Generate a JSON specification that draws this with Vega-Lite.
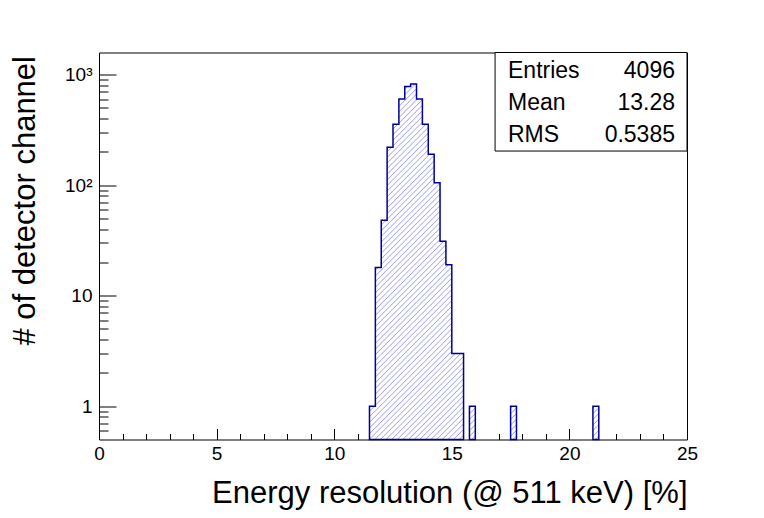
{
  "$schema": "https://vega.github.io/schema/vega-lite/v6.json",
  "width": 588,
  "height": 387,
  "autosize": "none",
  "padding": {"left": 99, "top": 52.5, "right": 77, "bottom": 78.5},
  "background": "white",
  "datasets": {
    "bins": [
      {"x0": 11.5, "x1": 11.75, "n": 1, "run": 1},
      {"x0": 11.75, "x1": 12.0, "n": 18, "run": 1},
      {"x0": 12.0, "x1": 12.25, "n": 48, "run": 1},
      {"x0": 12.25, "x1": 12.5, "n": 220, "run": 1},
      {"x0": 12.5, "x1": 12.75, "n": 355, "run": 1},
      {"x0": 12.75, "x1": 13.0, "n": 600, "run": 1},
      {"x0": 13.0, "x1": 13.25, "n": 780, "run": 1},
      {"x0": 13.25, "x1": 13.5, "n": 820, "run": 1},
      {"x0": 13.5, "x1": 13.75, "n": 600, "run": 1},
      {"x0": 13.75, "x1": 14.0, "n": 355, "run": 1},
      {"x0": 14.0, "x1": 14.25, "n": 190, "run": 1},
      {"x0": 14.25, "x1": 14.5, "n": 105, "run": 1},
      {"x0": 14.5, "x1": 14.75, "n": 31, "run": 1},
      {"x0": 14.75, "x1": 15.0, "n": 19, "run": 1},
      {"x0": 15.0, "x1": 15.25, "n": 3, "run": 1},
      {"x0": 15.25, "x1": 15.5, "n": 3, "run": 1},
      {"x0": 15.75, "x1": 16.0, "n": 1, "run": 2},
      {"x0": 17.5, "x1": 17.75, "n": 1, "run": 3},
      {"x0": 21.0, "x1": 21.25, "n": 1, "run": 4}
    ],
    "stats": [
      {"names": ["Entries", "Mean", "RMS"], "vals": ["4096", "13.28", "0.5385"]}
    ]
  },
  "config": {
    "font": "Liberation Sans",
    "view": {"stroke": "black", "strokeWidth": 1},
    "axis": {
      "domain": false,
      "grid": false,
      "tickColor": "black",
      "tickWidth": 1,
      "labelColor": "black",
      "titleColor": "black",
      "labelFont": "Liberation Sans",
      "titleFont": "Liberation Sans",
      "labelFontSize": 19,
      "titleFontSize": 31,
      "titleFontWeight": "normal",
      "zindex": 1,
      "labelFlush": false,
      "labelOverlap": false
    }
  },
  "resolve": {"axis": {"x": "independent", "y": "independent"}},
  "layer": [
    {
      "data": {"name": "bins"},
      "transform": [
        {"filter": "datum.run == 1"},
        {"fold": ["x0", "x1"]}
      ],
      "mark": {
        "type": "area",
        "interpolate": "linear",
        "opacity": 1,
        "fillOpacity": 1,
        "stroke": "#000099",
        "strokeWidth": 1.5,
        "fill": {
          "gradient": "linear",
          "x1": 0, "y1": 0, "x2": 0.3128, "y2": 1.1819,
          "stops": [
            {"offset": 0, "color": "white"}, {"offset": 0.0025, "color": "#a4a4f6"}, {"offset": 0.005, "color": "white"},
            {"offset": 0.0125, "color": "white"}, {"offset": 0.015, "color": "#a4a4f6"}, {"offset": 0.0175, "color": "white"},
            {"offset": 0.025, "color": "white"}, {"offset": 0.0275, "color": "#a4a4f6"}, {"offset": 0.03, "color": "white"},
            {"offset": 0.0375, "color": "white"}, {"offset": 0.04, "color": "#a4a4f6"}, {"offset": 0.0425, "color": "white"},
            {"offset": 0.05, "color": "white"}, {"offset": 0.0525, "color": "#a4a4f6"}, {"offset": 0.055, "color": "white"},
            {"offset": 0.0625, "color": "white"}, {"offset": 0.065, "color": "#a4a4f6"}, {"offset": 0.0675, "color": "white"},
            {"offset": 0.075, "color": "white"}, {"offset": 0.0775, "color": "#a4a4f6"}, {"offset": 0.08, "color": "white"},
            {"offset": 0.0875, "color": "white"}, {"offset": 0.09, "color": "#a4a4f6"}, {"offset": 0.0925, "color": "white"},
            {"offset": 0.1, "color": "white"}, {"offset": 0.1025, "color": "#a4a4f6"}, {"offset": 0.105, "color": "white"},
            {"offset": 0.1125, "color": "white"}, {"offset": 0.115, "color": "#a4a4f6"}, {"offset": 0.1175, "color": "white"},
            {"offset": 0.125, "color": "white"}, {"offset": 0.1275, "color": "#a4a4f6"}, {"offset": 0.13, "color": "white"},
            {"offset": 0.1375, "color": "white"}, {"offset": 0.14, "color": "#a4a4f6"}, {"offset": 0.1425, "color": "white"},
            {"offset": 0.15, "color": "white"}, {"offset": 0.1525, "color": "#a4a4f6"}, {"offset": 0.155, "color": "white"},
            {"offset": 0.1625, "color": "white"}, {"offset": 0.165, "color": "#a4a4f6"}, {"offset": 0.1675, "color": "white"},
            {"offset": 0.175, "color": "white"}, {"offset": 0.1775, "color": "#a4a4f6"}, {"offset": 0.18, "color": "white"},
            {"offset": 0.1875, "color": "white"}, {"offset": 0.19, "color": "#a4a4f6"}, {"offset": 0.1925, "color": "white"},
            {"offset": 0.2, "color": "white"}, {"offset": 0.2025, "color": "#a4a4f6"}, {"offset": 0.205, "color": "white"},
            {"offset": 0.2125, "color": "white"}, {"offset": 0.215, "color": "#a4a4f6"}, {"offset": 0.2175, "color": "white"},
            {"offset": 0.225, "color": "white"}, {"offset": 0.2275, "color": "#a4a4f6"}, {"offset": 0.23, "color": "white"},
            {"offset": 0.2375, "color": "white"}, {"offset": 0.24, "color": "#a4a4f6"}, {"offset": 0.2425, "color": "white"},
            {"offset": 0.25, "color": "white"}, {"offset": 0.2525, "color": "#a4a4f6"}, {"offset": 0.255, "color": "white"},
            {"offset": 0.2625, "color": "white"}, {"offset": 0.265, "color": "#a4a4f6"}, {"offset": 0.2675, "color": "white"},
            {"offset": 0.275, "color": "white"}, {"offset": 0.2775, "color": "#a4a4f6"}, {"offset": 0.28, "color": "white"},
            {"offset": 0.2875, "color": "white"}, {"offset": 0.29, "color": "#a4a4f6"}, {"offset": 0.2925, "color": "white"},
            {"offset": 0.3, "color": "white"}, {"offset": 0.3025, "color": "#a4a4f6"}, {"offset": 0.305, "color": "white"},
            {"offset": 0.3125, "color": "white"}, {"offset": 0.315, "color": "#a4a4f6"}, {"offset": 0.3175, "color": "white"},
            {"offset": 0.325, "color": "white"}, {"offset": 0.3275, "color": "#a4a4f6"}, {"offset": 0.33, "color": "white"},
            {"offset": 0.3375, "color": "white"}, {"offset": 0.34, "color": "#a4a4f6"}, {"offset": 0.3425, "color": "white"},
            {"offset": 0.35, "color": "white"}, {"offset": 0.3525, "color": "#a4a4f6"}, {"offset": 0.355, "color": "white"},
            {"offset": 0.3625, "color": "white"}, {"offset": 0.365, "color": "#a4a4f6"}, {"offset": 0.3675, "color": "white"},
            {"offset": 0.375, "color": "white"}, {"offset": 0.3775, "color": "#a4a4f6"}, {"offset": 0.38, "color": "white"},
            {"offset": 0.3875, "color": "white"}, {"offset": 0.39, "color": "#a4a4f6"}, {"offset": 0.3925, "color": "white"},
            {"offset": 0.4, "color": "white"}, {"offset": 0.4025, "color": "#a4a4f6"}, {"offset": 0.405, "color": "white"},
            {"offset": 0.4125, "color": "white"}, {"offset": 0.415, "color": "#a4a4f6"}, {"offset": 0.4175, "color": "white"},
            {"offset": 0.425, "color": "white"}, {"offset": 0.4275, "color": "#a4a4f6"}, {"offset": 0.43, "color": "white"},
            {"offset": 0.4375, "color": "white"}, {"offset": 0.44, "color": "#a4a4f6"}, {"offset": 0.4425, "color": "white"},
            {"offset": 0.45, "color": "white"}, {"offset": 0.4525, "color": "#a4a4f6"}, {"offset": 0.455, "color": "white"},
            {"offset": 0.4625, "color": "white"}, {"offset": 0.465, "color": "#a4a4f6"}, {"offset": 0.4675, "color": "white"},
            {"offset": 0.475, "color": "white"}, {"offset": 0.4775, "color": "#a4a4f6"}, {"offset": 0.48, "color": "white"},
            {"offset": 0.4875, "color": "white"}, {"offset": 0.49, "color": "#a4a4f6"}, {"offset": 0.4925, "color": "white"},
            {"offset": 0.5, "color": "white"}, {"offset": 0.5025, "color": "#a4a4f6"}, {"offset": 0.505, "color": "white"},
            {"offset": 0.5125, "color": "white"}, {"offset": 0.515, "color": "#a4a4f6"}, {"offset": 0.5175, "color": "white"},
            {"offset": 0.525, "color": "white"}, {"offset": 0.5275, "color": "#a4a4f6"}, {"offset": 0.53, "color": "white"},
            {"offset": 0.5375, "color": "white"}, {"offset": 0.54, "color": "#a4a4f6"}, {"offset": 0.5425, "color": "white"},
            {"offset": 0.55, "color": "white"}, {"offset": 0.5525, "color": "#a4a4f6"}, {"offset": 0.555, "color": "white"},
            {"offset": 0.5625, "color": "white"}, {"offset": 0.565, "color": "#a4a4f6"}, {"offset": 0.5675, "color": "white"},
            {"offset": 0.575, "color": "white"}, {"offset": 0.5775, "color": "#a4a4f6"}, {"offset": 0.58, "color": "white"},
            {"offset": 0.5875, "color": "white"}, {"offset": 0.59, "color": "#a4a4f6"}, {"offset": 0.5925, "color": "white"},
            {"offset": 0.6, "color": "white"}, {"offset": 0.6025, "color": "#a4a4f6"}, {"offset": 0.605, "color": "white"},
            {"offset": 0.6125, "color": "white"}, {"offset": 0.615, "color": "#a4a4f6"}, {"offset": 0.6175, "color": "white"},
            {"offset": 0.625, "color": "white"}, {"offset": 0.6275, "color": "#a4a4f6"}, {"offset": 0.63, "color": "white"},
            {"offset": 0.6375, "color": "white"}, {"offset": 0.64, "color": "#a4a4f6"}, {"offset": 0.6425, "color": "white"},
            {"offset": 0.65, "color": "white"}, {"offset": 0.6525, "color": "#a4a4f6"}, {"offset": 0.655, "color": "white"},
            {"offset": 0.6625, "color": "white"}, {"offset": 0.665, "color": "#a4a4f6"}, {"offset": 0.6675, "color": "white"},
            {"offset": 0.675, "color": "white"}, {"offset": 0.6775, "color": "#a4a4f6"}, {"offset": 0.68, "color": "white"},
            {"offset": 0.6875, "color": "white"}, {"offset": 0.69, "color": "#a4a4f6"}, {"offset": 0.6925, "color": "white"},
            {"offset": 0.7, "color": "white"}, {"offset": 0.7025, "color": "#a4a4f6"}, {"offset": 0.705, "color": "white"},
            {"offset": 0.7125, "color": "white"}, {"offset": 0.715, "color": "#a4a4f6"}, {"offset": 0.7175, "color": "white"},
            {"offset": 0.725, "color": "white"}, {"offset": 0.7275, "color": "#a4a4f6"}, {"offset": 0.73, "color": "white"},
            {"offset": 0.7375, "color": "white"}, {"offset": 0.74, "color": "#a4a4f6"}, {"offset": 0.7425, "color": "white"},
            {"offset": 0.75, "color": "white"}, {"offset": 0.7525, "color": "#a4a4f6"}, {"offset": 0.755, "color": "white"},
            {"offset": 0.7625, "color": "white"}, {"offset": 0.765, "color": "#a4a4f6"}, {"offset": 0.7675, "color": "white"},
            {"offset": 0.775, "color": "white"}, {"offset": 0.7775, "color": "#a4a4f6"}, {"offset": 0.78, "color": "white"},
            {"offset": 0.7875, "color": "white"}, {"offset": 0.79, "color": "#a4a4f6"}, {"offset": 0.7925, "color": "white"},
            {"offset": 0.8, "color": "white"}, {"offset": 0.8025, "color": "#a4a4f6"}, {"offset": 0.805, "color": "white"},
            {"offset": 0.8125, "color": "white"}, {"offset": 0.815, "color": "#a4a4f6"}, {"offset": 0.8175, "color": "white"},
            {"offset": 0.825, "color": "white"}, {"offset": 0.8275, "color": "#a4a4f6"}, {"offset": 0.83, "color": "white"},
            {"offset": 0.8375, "color": "white"}, {"offset": 0.84, "color": "#a4a4f6"}, {"offset": 0.8425, "color": "white"},
            {"offset": 0.85, "color": "white"}, {"offset": 0.8525, "color": "#a4a4f6"}, {"offset": 0.855, "color": "white"},
            {"offset": 0.8625, "color": "white"}, {"offset": 0.865, "color": "#a4a4f6"}, {"offset": 0.8675, "color": "white"},
            {"offset": 0.875, "color": "white"}, {"offset": 0.8775, "color": "#a4a4f6"}, {"offset": 0.88, "color": "white"},
            {"offset": 0.8875, "color": "white"}, {"offset": 0.89, "color": "#a4a4f6"}, {"offset": 0.8925, "color": "white"},
            {"offset": 0.9, "color": "white"}, {"offset": 0.9025, "color": "#a4a4f6"}, {"offset": 0.905, "color": "white"},
            {"offset": 0.9125, "color": "white"}, {"offset": 0.915, "color": "#a4a4f6"}, {"offset": 0.9175, "color": "white"},
            {"offset": 0.925, "color": "white"}, {"offset": 0.9275, "color": "#a4a4f6"}, {"offset": 0.93, "color": "white"},
            {"offset": 0.9375, "color": "white"}, {"offset": 0.94, "color": "#a4a4f6"}, {"offset": 0.9425, "color": "white"},
            {"offset": 0.95, "color": "white"}, {"offset": 0.9525, "color": "#a4a4f6"}, {"offset": 0.955, "color": "white"},
            {"offset": 0.9625, "color": "white"}, {"offset": 0.965, "color": "#a4a4f6"}, {"offset": 0.9675, "color": "white"},
            {"offset": 0.975, "color": "white"}, {"offset": 0.9775, "color": "#a4a4f6"}, {"offset": 0.98, "color": "white"},
            {"offset": 0.9875, "color": "white"}, {"offset": 0.99, "color": "#a4a4f6"}, {"offset": 0.9925, "color": "white"},
            {"offset": 1, "color": "white"}
          ]
        }
      },
      "encoding": {
        "x": {
          "field": "value",
          "type": "quantitative",
          "scale": {"domain": [0, 25], "nice": false, "zero": false},
          "axis": {
            "orient": "bottom",
            "values": [0, 5, 10, 15, 20, 25],
            "tickSize": -11,
            "labelPadding": 16,
            "title": "Energy resolution (@ 511 keV) [%]",
            "titleAnchor": "end",
            "titleAlign": "right",
            "titleX": 588,
            "titleY": 63,
            "titleBaseline": "alphabetic"
          }
        },
        "y": {
          "field": "n",
          "type": "quantitative",
          "stack": null,
          "scale": {"type": "log", "domain": [0.5, 1580], "nice": false},
          "axis": {
            "orient": "left",
            "values": [1, 10, 100, 1000],
            "tickSize": -17,
            "labelPadding": 24,
            "labelExpr": "datum.value == 1 ? '1' : datum.value == 10 ? '10' : datum.value == 100 ? '10²' : '10³'",
            "title": "# of detector channel",
            "titleX": -65,
            "titleY": 3,
            "titleAngle": 270,
            "titleAlign": "right",
            "titleBaseline": "alphabetic"
          }
        },
        "y2": {"datum": 0.5},
        "order": [
          {"field": "x0", "type": "quantitative"},
          {"field": "key", "type": "nominal"}
        ]
      }
    },
    {
      "data": {"name": "bins"},
      "transform": [{"filter": "datum.run > 1"}],
      "mark": {
        "type": "bar",
        "opacity": 1,
        "stroke": "#000099",
        "strokeWidth": 1.5,
        "fill": {
          "gradient": "linear",
          "x1": 0, "y1": 0, "x2": 0.2015, "y2": 1.141,
          "stops": [
            {"offset": 0, "color": "white"},
            {"offset": 0.02, "color": "white"}, {"offset": 0.049, "color": "#a4a4f6"}, {"offset": 0.078, "color": "white"},
            {"offset": 0.1635, "color": "white"}, {"offset": 0.1925, "color": "#a4a4f6"}, {"offset": 0.2215, "color": "white"},
            {"offset": 0.307, "color": "white"}, {"offset": 0.336, "color": "#a4a4f6"}, {"offset": 0.365, "color": "white"},
            {"offset": 0.4505, "color": "white"}, {"offset": 0.4795, "color": "#a4a4f6"}, {"offset": 0.5085, "color": "white"},
            {"offset": 0.594, "color": "white"}, {"offset": 0.623, "color": "#a4a4f6"}, {"offset": 0.652, "color": "white"},
            {"offset": 0.7375, "color": "white"}, {"offset": 0.7665, "color": "#a4a4f6"}, {"offset": 0.7955, "color": "white"},
            {"offset": 0.881, "color": "white"}, {"offset": 0.91, "color": "#a4a4f6"}, {"offset": 0.939, "color": "white"},
            {"offset": 1, "color": "white"}
          ]
        }
      },
      "encoding": {
        "x": {
          "field": "x0",
          "type": "quantitative",
          "axis": {
            "orient": "bottom",
            "values": [1, 2, 3, 4, 6, 7, 8, 9, 11, 12, 13, 14, 16, 17, 18, 19, 21, 22, 23, 24],
            "tickSize": -6,
            "labels": false,
            "title": null
          }
        },
        "x2": {"field": "x1"},
        "y": {
          "field": "n",
          "type": "quantitative",
          "stack": null,
          "axis": {
            "orient": "left",
            "values": [0.6, 0.7, 0.8, 0.9, 2, 3, 4, 5, 6, 7, 8, 9, 20, 30, 40, 50, 60, 70, 80, 90, 200, 300, 400, 500, 600, 700, 800, 900],
            "tickSize": -9,
            "labels": false,
            "title": null
          }
        },
        "y2": {"datum": 0.5}
      }
    },
    {
      "data": {"name": "stats"},
      "mark": {"type": "rect", "fill": "white", "stroke": "black", "strokeWidth": 1},
      "encoding": {
        "x": {"datum": 16.84, "type": "quantitative", "axis": null},
        "x2": {"datum": 25},
        "y": {"datum": 1580, "type": "quantitative", "axis": null},
        "y2": {"datum": 203}
      }
    },
    {
      "data": {"name": "stats"},
      "mark": {"type": "text", "align": "left", "baseline": "alphabetic", "fontSize": 23, "lineHeight": 31.7, "color": "black"},
      "encoding": {
        "x": {"datum": 17.39, "type": "quantitative", "axis": null},
        "y": {"datum": 923, "type": "quantitative", "axis": null},
        "text": {"field": "names", "type": "nominal"}
      }
    },
    {
      "data": {"name": "stats"},
      "mark": {"type": "text", "align": "right", "baseline": "alphabetic", "fontSize": 23, "lineHeight": 31.7, "color": "black"},
      "encoding": {
        "x": {"datum": 24.49, "type": "quantitative", "axis": null},
        "y": {"datum": 923, "type": "quantitative", "axis": null},
        "text": {"field": "vals", "type": "nominal"}
      }
    }
  ]
}
